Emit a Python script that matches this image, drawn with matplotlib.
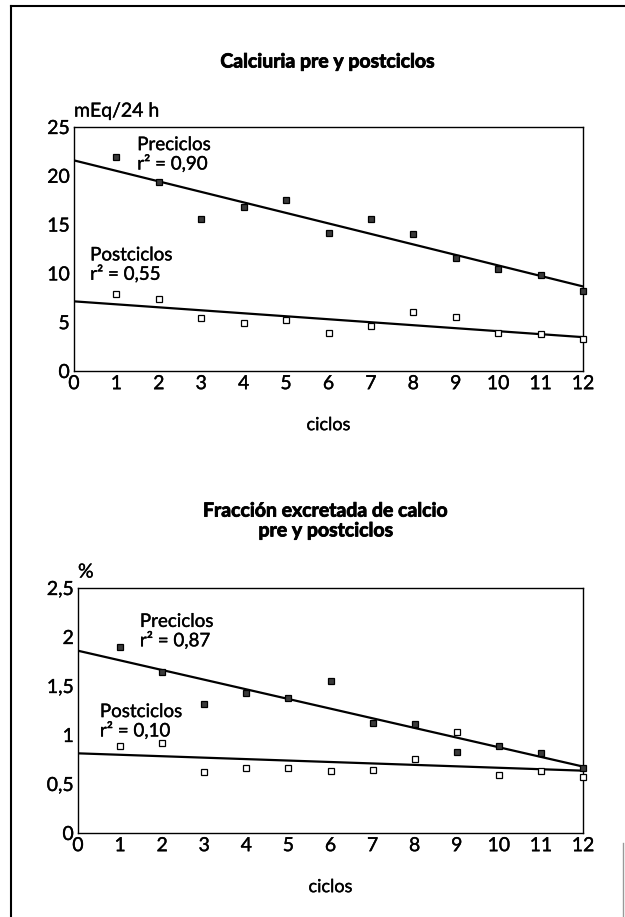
import matplotlib
matplotlib.use("Agg")
import matplotlib.pyplot as plt
import matplotlib.patheffects as pe
import numpy as np
from matplotlib.lines import Line2D

plt.rcParams['font.family'] = ['Lato', 'DejaVu Sans']

# ciclos
ciclos = [1, 2, 3, 4, 5, 6, 7, 8, 9, 10, 11, 12]

# Calciuria (mEq/24 h)
calc_pre = [21.9, 19.4, 15.6, 16.8, 17.5, 14.1, 15.6, 14.0, 11.6, 10.5, 9.8, 8.2]
calc_post = [7.9, 7.4, 5.4, 4.9, 5.2, 3.9, 4.6, 6.0, 5.5, 3.9, 3.8, 3.3]
calc_r2 = ['0,90', '0,55']
calc_yticks = [0, 5, 10, 15, 20, 25]
calc_ylabels = ['0', '5', '10', '15', '20', '25']

# Fraccion excretada de calcio (%)
fe_pre = [1.895, 1.64, 1.316, 1.43, 1.375, 1.55, 1.12, 1.11, 0.83, 0.89, 0.82, 0.66]
fe_post = [0.89, 0.92, 0.625, 0.66, 0.66, 0.63, 0.64, 0.76, 1.03, 0.59, 0.63, 0.57]
fe_r2 = ['0,87', '0,10']
fe_yticks = [0, 0.5, 1, 1.5, 2, 2.5]
fe_ylabels = ['0', '0,5', '1', '1,5', '2', '2,5']

xticks = [0, 1, 2, 3, 4, 5, 6, 7, 8, 9, 10, 11, 12]

W, H = 625, 917
FS = 14
# trazo algo mas grueso, como el original impreso
heavy = [pe.withStroke(linewidth=0.25, foreground='black')]
heavy_title = [pe.withStroke(linewidth=0.6, foreground='black')]


def panel(ax, pre, post, yticks, ylabels, unit, r2, pos_pre, pos_post):
    x = np.array(ciclos)
    xx = np.array([0, 12])
    # rectas de regresion
    for serie in (pre, post):
        m, b = np.polyfit(x, serie, 1)
        ax.plot(xx, m * xx + b, color='black', lw=1.6, zorder=2)
    ax.plot(x, pre, 's', ms=4.5, mfc='#3a3a3a', mec='black', mew=0.9, zorder=3, clip_on=False)
    ax.plot(x, post, 's', ms=4.5, mfc='white', mec='black', mew=0.9, zorder=3, clip_on=False)

    ax.set_xlim(0, 12)
    ax.set_ylim(yticks[0], yticks[-1])
    ax.set_xticks(xticks)
    ax.set_xticklabels([str(t) for t in xticks])
    ax.set_yticks(yticks)
    ax.set_yticklabels(ylabels)
    ax.tick_params(length=0, labelsize=FS, pad=3)
    for lbl in ax.get_xticklabels() + ax.get_yticklabels():
        lbl.set_path_effects(heavy)
    for s in ax.spines.values():
        s.set_linewidth(1.0)
    ax.set_xlabel('ciclos', fontsize=13, labelpad=18, path_effects=heavy)
    ax.text(0.0, 1.065, unit, transform=ax.transAxes, fontsize=14, ha='left', va='center',
            path_effects=heavy)

    ax.text(pos_pre[0], pos_pre[1], 'Preciclos\nr² = ' + r2[0], fontsize=13.5,
            ha='left', va='center', linespacing=1.05, path_effects=heavy)
    ax.text(pos_post[0], pos_post[1], 'Postciclos\nr² = ' + r2[1], fontsize=13.5,
            ha='left', va='center', linespacing=1.05, path_effects=heavy)


fig = plt.figure(figsize=(W / 100, H / 100), dpi=100)

ax1 = fig.add_axes([74 / W, 1 - 371 / H, (583 - 74) / W, (371 - 127) / H])
panel(ax1, calc_pre, calc_post, calc_yticks, calc_ylabels, 'mEq/24 h', calc_r2,
      (1.49, 22.2), (0.38, 10.9))

ax2 = fig.add_axes([78 / W, 1 - 833 / H, (583 - 78) / W, (833 - 588) / H])
panel(ax2, fe_pre, fe_post, fe_yticks, fe_ylabels, '%', fe_r2,
      (1.47, 2.06), (0.52, 1.14))

fig.text(328 / W, 1 - 62 / H, 'Calciuria pre y postciclos', fontsize=14,
         fontweight='bold', ha='center', va='center', path_effects=heavy_title)
fig.text(326 / W, 1 - 521 / H, 'Fracción excretada de calcio\npre y postciclos', fontsize=14,
         fontweight='bold', ha='center', va='center', linespacing=1.2,
         path_effects=heavy_title)

# marco de la pagina
fig.add_artist(Line2D([11 / W, 11 / W], [0, 1 - 6 / H], color='black', lw=1.5))
fig.add_artist(Line2D([11 / W, 1], [1 - 6 / H, 1 - 6 / H], color='black', lw=1.5))
fig.add_artist(Line2D([623 / W, 623 / W], [0, 1 - 843 / H], color='0.6', lw=1.0))

fig.savefig('out.png', dpi=100)
